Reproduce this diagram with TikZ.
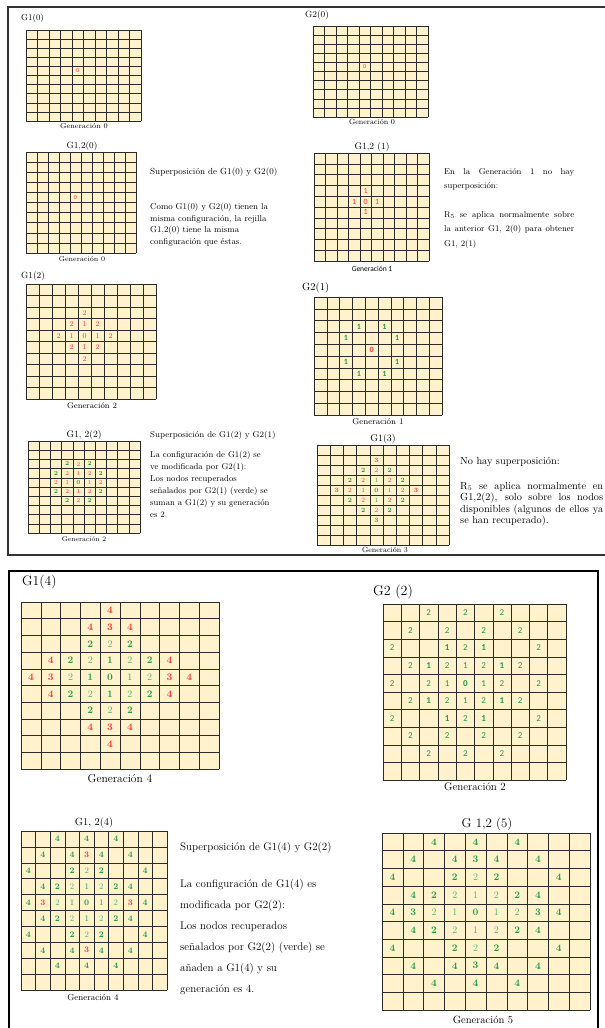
\documentclass[tikz,border=0pt]{standalone}
\usepackage{fontspec}
\newfontfamily\numsans{Carlito}
\hyphenpenalty=10000
\exhyphenpenalty=10000
\definecolor{crema}{HTML}{FFF2CC}
\definecolor{crojo}{HTML}{FF3535}
\definecolor{cverde}{HTML}{1E9E40}
\definecolor{cclaro}{HTML}{4CB86A}
\definecolor{trazo}{HTML}{2B2B2B}
\newcommand{\tam}[1]{\fontsize{#1}{#1}\selectfont}

% rejilla 10x10: nombre, x, y, ancho, alto, fuente, celdas
\newcommand{\rejilla}[7]{%
  \begin{scope}[shift={(#2,#3)},xscale=#4/10,yscale=#5/10,
      nums/.style={font=#6,inner sep=0pt}]
    \fill[crema] (0,0) rectangle (10,10);
    \foreach \i in {0,...,10}{
      \draw[linea] (\i,0) -- (\i,10);
      \draw[linea] (0,\i) -- (10,\i);
    }
    \foreach \col/\fil/\est/\val in {#7}
      \node[\est] (#1-\col-\fil) at (\col+0.5,\fil+0.5) {\val};
  \end{scope}}

\begin{document}
\begin{tikzpicture}[x=1pt,y=-1pt,
    linea/.style={draw=trazo,line width=0.5pt},
    rojo/.style={nums,text=crojo},
    rojob/.style={rojo,execute at begin node=\bfseries},
    verde/.style={nums,text=cverde},
    verdeb/.style={verde,execute at begin node=\bfseries},
    claro/.style={nums,text=cclaro},
    titulo/.style={inner sep=0pt,font=\tam{9}},
    gen/.style={inner sep=0pt,font=\tam{7}},
    texto/.style={inner sep=0pt,align=left},
    marco/.style={line width=2pt,draw=black!80}]
  \useasboundingbox (0,0) rectangle (605,1028);

  % marcos
  \draw[marco] (610,7) -- (8,7) -- (8,555) -- (610,555);
  \draw[line width=1.5pt] (9,1035) -- (9,571) -- (598,571) -- (598,1035);

  % ---- parte superior ----
  \node[titulo,anchor=west,font=\tam{8.6}] (tG10) at (21,18) {G1(0)};
  \rejilla{g10}{26}{30}{115}{91}{\numsans\tam{6}}{4/4/rojo/0}
  \node[gen,font=\tam{7.3}] (gG10) at (84,126) {Generación 0};

  \node[titulo,anchor=west] (tG20) at (305,15) {G2(0)};
  \rejilla{g20}{313}{26}{115}{91}{\numsans\tam{6}}{4/4/rojo/0}
  \node[gen,font=\tam{7.5}] (gG20) at (372,122) {Generación 0};

  \node[titulo] (tG120) at (82,146) {G1,2(0)};
  \rejilla{g120}{26}{152}{110}{101}{\numsans\tam{6}}{4/4/rojo/0}
  \node[gen,font=\tam{7.1}] (gG120) at (82,259) {Generación 0};
  \node[texto,anchor=west,font=\tam{8.8}] (sup0) at (150,172)
    {Superposición de G1(0) y G2(0)};
  \node[texto,anchor=north west,font=\fontsize{8.6}{11.5}\selectfont] (como0) at (150,203)
    {Como G1(0) y G2(0) tienen la\\misma configuración, la rejilla\\G1,2(0) tiene la misma\\configuración que éstas.};

  \node[titulo,font=\tam{9.5}] (tG121) at (372,147) {G1,2 (1)};
  \rejilla{g121}{314}{153}{115}{108}{\numsans\tam{8}}
    {4/3/rojo/1,3/4/rojo/1,4/4/rojo/0,5/4/rojo/1,4/5/rojo/1}
  \node[gen,font=\numsans\tam{7.5}] (gG121) at (372,269) {Generación 1};
  \node[texto,anchor=north west,text width=130pt,align=justify,
    font=\fontsize{8.5}{14.5}\selectfont] (gen1a) at (444,168)
    {En la Generación 1 no hay\linebreak superposición:};
  \node[texto,anchor=north west,text width=130pt,align=justify,
    font=\fontsize{8.5}{14.5}\selectfont] (gen1b) at (444,211)
    {R$_5$ se aplica normalmente sobre\linebreak la anterior G1, 2(0) para obtener\linebreak G1, 2(1)};

  \node[titulo,anchor=west] (tG12) at (21,276) {G1(2)};
  \rejilla{g12}{26}{284}{130}{115}{\tam{7.5}}
    {4/2/rojo/2,
     3/3/rojo/2,4/3/rojo/1,5/3/rojo/2,
     2/4/rojo/2,3/4/rojo/1,4/4/verde/0,5/4/rojo/1,6/4/rojo/2,
     3/5/rojo/2,4/5/rojo/1,5/5/rojo/2,
     4/6/rojo/2}
  \node[gen,font=\tam{8.2}] (gG12) at (92,406) {Generación 2};

  \node[titulo,anchor=west,font=\tam{10.5}] (tG21) at (302,288) {G2(1)};
  \rejilla{g21}{314}{297}{128}{118}{\numsans\tam{8}}
    {3/2/verdeb/1,5/2/verdeb/1,
     2/3/verdeb/1,6/3/verdeb/1,
     4/4/rojob/0,
     2/5/verdeb/1,6/5/verdeb/1,
     3/6/verdeb/1,5/6/verdeb/1}
  \node[gen,font=\tam{8.4}] (gG21) at (378,422) {Generación 1};

  \node[titulo,font=\tam{9.5}] (tG122) at (84,435) {G1, 2(2)};
  \rejilla{g122}{28}{441}{112}{92}{\tam{6}}
    {3/2/verdeb/2,4/2/rojo/2,5/2/verdeb/2,
     2/3/verdeb/2,3/3/rojo/2,4/3/rojo/1,5/3/rojo/2,6/3/verdeb/2,
     2/4/rojo/2,3/4/rojo/1,4/4/verdeb/0,5/4/rojo/1,6/4/rojo/2,
     2/5/verdeb/2,3/5/rojo/2,4/5/rojo/1,5/5/rojo/2,6/5/verdeb/2,
     3/6/verdeb/2,4/6/rojo/2,5/6/verdeb/2}
  \node[gen,font=\tam{6.8}] (gG122) at (84,539) {Generación 2};
  \node[texto,anchor=west,font=\tam{8.4}] (sup2) at (150,435)
    {Superposición de G1(2) y G2(1)};
  \node[texto,anchor=north west,font=\fontsize{8.5}{12}\selectfont] (conf2) at (150,451)
    {La configuración de G1(2) se\\ve modificada por G2(1):\\Los nodos recuperados\\señalados por G2(1) (verde) se\\suman a G1(2) y su generación\\es 2.};

  \node[titulo,font=\tam{9.8}] (tG13) at (383,439) {G1(3)};
  \rejilla{g13}{317}{445}{132}{100}{\tam{6.5}}
    {4/1/rojob/3,
     3/2/verdeb/2,4/2/rojo/2,5/2/verdeb/2,
     2/3/verdeb/2,3/3/rojo/2,4/3/verde/1,5/3/rojo/2,6/3/verdeb/2,
     1/4/rojob/3,2/4/rojo/2,3/4/verde/1,4/4/verdeb/0,5/4/verde/1,6/4/rojo/2,7/4/rojob/3,
     2/5/verdeb/2,3/5/rojo/2,4/5/verde/1,5/5/rojo/2,6/5/verdeb/2,
     3/6/verdeb/2,4/6/rojo/2,5/6/verdeb/2,
     4/7/rojob/3}
  \node[gen,font=\tam{7.5}] (gG13) at (385,550) {Generación 3};
  \node[texto,anchor=west,font=\tam{10.3}] (nohay) at (460,462) {No hay superposición:};
  \node[texto,anchor=north west,text width=143pt,align=justify,
    font=\fontsize{10.3}{11.4}\selectfont] (r5) at (460,482)
    {R$_5$ se aplica normalmente en\linebreak G1,2(2), solo sobre los nodos\linebreak disponibles (algunos de ellos ya\linebreak se han recuperado).};

  % ---- parte inferior ----
  \node[titulo,anchor=west,font=\tam{13.7}] (tG14) at (22,582) {G1(4)};
  \rejilla{g14}{21}{602}{198}{167}{\tam{10}}
    {4/0/rojob/4,
     3/1/rojob/4,4/1/rojob/3,5/1/rojob/4,
     3/2/verdeb/2,4/2/claro/2,5/2/verdeb/2,
     1/3/rojob/4,2/3/verdeb/2,3/3/claro/2,4/3/verdeb/1,5/3/claro/2,6/3/verdeb/2,7/3/rojob/4,
     0/4/rojob/4,1/4/rojob/3,2/4/claro/2,3/4/verdeb/1,4/4/verdeb/0,5/4/verde/1,6/4/claro/2,7/4/rojob/3,8/4/rojob/4,
     1/5/rojob/4,2/5/verdeb/2,3/5/claro/2,4/5/verdeb/1,5/5/claro/2,6/5/verdeb/2,7/5/rojob/4,
     3/6/verdeb/2,4/6/claro/2,5/6/verdeb/2,
     3/7/rojob/4,4/7/rojob/3,5/7/rojob/4,
     4/8/rojob/4}
  \node[gen,font=\tam{11.5}] (gG14) at (120,779) {Generación 4};

  \node[titulo,anchor=west,font=\tam{14}] (tG22) at (373,592) {G2 (2)};
  \rejilla{g22}{383}{604}{183}{176}{\numsans\tam{9}}
    {2/0/verde/2,4/0/verde/2,6/0/verde/2,
     1/1/verde/2,3/1/verde/2,5/1/verde/2,7/1/verde/2,
     0/2/verde/2,3/2/verdeb/1,4/2/verde/2,5/2/verdeb/1,8/2/verde/2,
     1/3/verde/2,2/3/verdeb/1,3/3/verde/2,4/3/verde/1,5/3/verde/2,6/3/verdeb/1,7/3/verde/2,
     0/4/verde/2,2/4/verde/2,3/4/verde/1,4/4/verdeb/0,5/4/verde/1,6/4/verde/2,8/4/verde/2,
     1/5/verde/2,2/5/verdeb/1,3/5/verde/2,4/5/verde/1,5/5/verde/2,6/5/verdeb/1,7/5/verde/2,
     0/6/verde/2,3/6/verdeb/1,4/6/verde/2,5/6/verdeb/1,8/6/verde/2,
     1/7/verde/2,3/7/verde/2,5/7/verde/2,7/7/verde/2,
     2/8/verde/2,4/8/verde/2,6/8/verde/2}
  \node[gen,font=\tam{11}] (gG22) at (475,787) {Generación 2};

  \node[titulo,font=\tam{10.4}] (tG124) at (94,823) {G1, 2(4)};
  \rejilla{g124}{21}{831}{146}{159}{\tam{8.5}}
    {2/0/verdeb/4,4/0/verdeb/4,6/0/verdeb/4,
     1/1/verdeb/4,3/1/verdeb/4,4/1/rojob/3,5/1/verdeb/4,7/1/verdeb/4,
     0/2/verdeb/4,3/2/verdeb/2,4/2/claro/2,5/2/verdeb/2,8/2/verdeb/4,
     1/3/verdeb/4,2/3/verdeb/2,3/3/claro/2,4/3/verde/1,5/3/claro/2,6/3/verdeb/2,7/3/verdeb/4,
     0/4/verdeb/4,1/4/rojob/3,2/4/claro/2,3/4/verde/1,4/4/verdeb/0,5/4/verde/1,6/4/claro/2,7/4/rojob/3,8/4/verdeb/4,
     1/5/verdeb/4,2/5/verdeb/2,3/5/claro/2,4/5/verde/1,5/5/claro/2,6/5/verdeb/2,7/5/verdeb/4,
     0/6/verdeb/4,3/6/verdeb/2,4/6/claro/2,5/6/verdeb/2,8/6/verdeb/4,
     1/7/verdeb/4,3/7/verdeb/4,4/7/rojob/3,5/7/verdeb/4,7/7/verdeb/4,
     2/8/verdeb/4,4/8/verdeb/4,6/8/verdeb/4}
  \node[gen,font=\tam{8.7}] (gG124) at (93,998) {Generación 4};
  \node[texto,anchor=west,font=\tam{11}] (sup4) at (180,848)
    {Superposición de G1(4) y G2(2)};
  \node[texto,anchor=north west,font=\fontsize{11}{21}\selectfont] (conf4) at (180,879)
    {La configuración de G1(4) es\\modificada por G2(2):\\Los nodos recuperados\\señalados por G2(2) (verde) se\\añaden a G1(4) y su\\generación es 4.};

  \node[titulo,font=\tam{12.9}] (tG125) at (487,824) {G 1,2 (5)};
  \rejilla{g125}{382}{833}{208}{177}{\tam{10}}
    {2/0/verdeb/4,4/0/verdeb/4,6/0/verdeb/4,
     1/1/verdeb/4,3/1/verdeb/4,4/1/verdeb/3,5/1/verdeb/4,7/1/verdeb/4,
     0/2/verdeb/4,3/2/verdeb/2,4/2/claro/2,5/2/verdeb/2,8/2/verdeb/4,
     1/3/verdeb/4,2/3/verdeb/2,3/3/claro/2,4/3/claro/1,5/3/claro/2,6/3/verdeb/2,7/3/verdeb/4,
     0/4/verdeb/4,1/4/verdeb/3,2/4/claro/2,3/4/claro/1,4/4/verdeb/0,5/4/claro/1,6/4/claro/2,7/4/verdeb/3,8/4/verdeb/4,
     1/5/verdeb/4,2/5/verdeb/2,3/5/claro/2,4/5/claro/1,5/5/claro/2,6/5/verdeb/2,7/5/verdeb/4,
     0/6/verdeb/4,3/6/verdeb/2,4/6/claro/2,5/6/verdeb/2,8/6/verdeb/4,
     1/7/verdeb/4,3/7/verdeb/4,4/7/verdeb/3,5/7/verdeb/4,7/7/verdeb/4,
     2/8/verdeb/4,4/8/verdeb/4,6/8/verdeb/4}
  \node[gen,font=\tam{10.5}] (gG125) at (483,1020) {Generación 5};
\end{tikzpicture}
\end{document}
